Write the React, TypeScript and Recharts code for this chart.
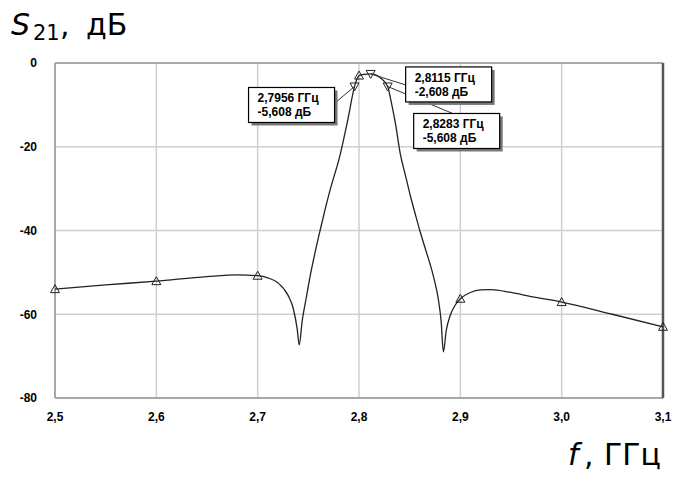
import {
  ComposedChart,
  CartesianGrid,
  Line,
  ReferenceDot,
  ReferenceLine,
  Scatter,
  XAxis,
  YAxis,
} from "recharts";

// Frequency response S21 (GHz, dB)
const freq = [
  2.5, 2.55, 2.6, 2.65, 2.68, 2.7, 2.71, 2.72, 2.73, 2.735, 2.739, 2.741,
  2.744, 2.748, 2.7517, 2.7566, 2.7616, 2.7665, 2.7715, 2.7813, 2.789,
  2.7956, 2.798, 2.8, 2.805, 2.8115, 2.817, 2.822, 2.8283, 2.832, 2.836,
  2.8406, 2.846, 2.851, 2.856, 2.86, 2.865, 2.8735, 2.878, 2.881, 2.8833,
  2.886, 2.89, 2.895, 2.9, 2.91, 2.92, 2.93, 2.95, 2.97, 3.0, 3.05, 3.1,
];
const s21 = [
  -54.0, -53.0, -52.1, -51.0, -50.6, -50.8, -51.3, -52.5, -55.5, -58.5,
  -63.5, -67.3, -61.5, -56.0, -51.0, -45.3, -40.0, -35.0, -30.3, -22.0,
  -13.5, -5.6, -3.8, -3.0, -2.7, -2.6, -2.9, -3.7, -5.6, -9.5, -14.5,
  -21.5, -27.0, -32.0, -36.5, -40.0, -44.0, -51.0, -56.0, -61.5, -69.0,
  -64.0, -60.3, -57.8, -56.3, -54.8, -54.2, -54.1, -54.8, -55.8, -57.1,
  -60.0, -63.0,
];

// triangle markers
const upMarkF = [2.5, 2.6, 2.7, 2.8, 2.9, 3.0, 3.1];
const upMarkDb = [-54.0, -52.1, -50.8, -3.0, -56.3, -57.1, -63.0];
const downMarkF = [2.7956, 2.8115, 2.8283];
const downMarkDb = [-5.608, -2.608, -5.608];

const xTicks = [2.5, 2.6, 2.7, 2.8, 2.9, 3.0, 3.1];
const yTicks = [0, -20, -40, -60, -80];

const curve = freq.map((f, i) => ({ f, db: s21[i] }));
const upMarks = upMarkF.map((f, i) => ({ f, db: upMarkDb[i] }));
const downMarks = downMarkF.map((f, i) => ({ f, db: downMarkDb[i] }));

const comma = (v: number, d: number) => v.toFixed(d).replace(".", ",");

const tickStyle = {
  fontFamily: "'Liberation Sans', Arial, sans-serif",
  fontSize: 12,
  fontWeight: 700,
  fill: "#000",
};

const UpTri = (props: any) => {
  const { cx, cy } = props;
  return (
    <path
      d={`M${cx},${cy - 4.5} L${cx + 4.5},${cy + 3.5} L${cx - 4.5},${cy + 3.5} Z`}
      fill="none"
      stroke="#222"
      strokeWidth={1}
    />
  );
};

const DownTri = (props: any) => {
  const { cx, cy } = props;
  return (
    <path
      d={`M${cx - 4.5},${cy - 3.5} L${cx + 4.5},${cy - 3.5} L${cx},${cy + 4.5} Z`}
      fill="none"
      stroke="#222"
      strokeWidth={1}
    />
  );
};

// callout box with a leader line; box offsets are relative to the marker
function callout(text1: string, text2: string, bx: number, by: number, lx: number, ly: number) {
  return (props: any) => {
    const { cx, cy } = props;
    const w = 86;
    const h = 35;
    return (
      <g>
        <line x1={cx} y1={cy} x2={cx + lx} y2={cy + ly} stroke="#333" strokeWidth={1} />
        <rect x={cx + bx + 3} y={cy + by + 3} width={w} height={h} fill="#777" />
        <rect x={cx + bx} y={cy + by} width={w} height={h} fill="#fff" stroke="#000" strokeWidth={1.2} />
        <text x={cx + bx + 9} y={cy + by + 15} style={tickStyle}>
          {text1}
        </text>
        <text x={cx + bx + 9} y={cy + by + 29} style={tickStyle}>
          {text2}
        </text>
      </g>
    );
  };
}

export default function App() {
  return (
    <div style={{ position: "absolute", left: 0, top: 0, width: 675, height: 477, background: "#fff" }}>
      <ComposedChart
        width={675}
        height={477}
        margin={{ top: 63, right: 12, bottom: 49, left: 0 }}
      >
        <CartesianGrid stroke="#cfcfcf" strokeWidth={1.5} />
        <XAxis
          dataKey="f"
          type="number"
          domain={[2.5, 3.1]}
          ticks={xTicks}
          tickFormatter={(v: number) => comma(v, 1)}
          axisLine={false}
          tickLine={false}
          tickSize={0}
          tickMargin={14}
          height={30}
          tick={tickStyle}
          allowDuplicatedCategory={false}
        />
        <YAxis
          type="number"
          domain={[-80, 0]}
          ticks={yTicks}
          axisLine={false}
          tickLine={false}
          tickSize={0}
          tickMargin={18}
          width={55}
          tick={tickStyle}
        />
        <ReferenceLine y={0} stroke="#a8a8a8" strokeWidth={2} />
        <ReferenceLine y={-80} stroke="#a8a8a8" strokeWidth={2} />
        <ReferenceLine x={2.5} stroke="#a8a8a8" strokeWidth={2} />
        <ReferenceLine x={3.1} stroke="#555" strokeWidth={2.5} />
        <Line
          data={curve}
          dataKey="db"
          type="monotone"
          stroke="#222"
          strokeWidth={1.3}
          dot={false}
          isAnimationActive={false}
        />
        <Scatter data={upMarks} dataKey="db" shape={UpTri} isAnimationActive={false} />
        <Scatter data={downMarks} dataKey="db" shape={DownTri} isAnimationActive={false} />
        <ReferenceDot
          x={2.8283}
          y={-5.608}
          shape={callout("2,8283 ГГц", "-5,608 дБ", 26, 27, 65, 27)}
        />
        <ReferenceDot
          x={2.7956}
          y={-5.608}
          shape={callout("2,7956 ГГц", "-5,608 дБ", -106, 1, -19, 16)}
        />
        <ReferenceDot
          x={2.8115}
          y={-2.608}
          shape={callout("2,8115 ГГц", "-2,608 дБ", 35, -7, 35, 11)}
        />
      </ComposedChart>
      <svg
        width={675}
        height={477}
        style={{ position: "absolute", left: 0, top: 0, pointerEvents: "none" }}
      >
        <g style={{ fontFamily: "'DejaVu Sans', Verdana, sans-serif", fill: "#000" }}>
          <text x={11} y={35} fontSize={30} fontStyle="italic">S</text>
          <text x={33} y={40} fontSize={21}>21</text>
          <text x={60} y={35} fontSize={30}>,</text>
          <text x={86} y={35} fontSize={30}>дБ</text>
          <text x={568} y={465} fontSize={30} fontStyle="italic">f</text>
          <text x={584} y={465} fontSize={30}>,</text>
          <text x={604} y={465} fontSize={30}>ГГц</text>
        </g>
      </svg>
    </div>
  );
}
